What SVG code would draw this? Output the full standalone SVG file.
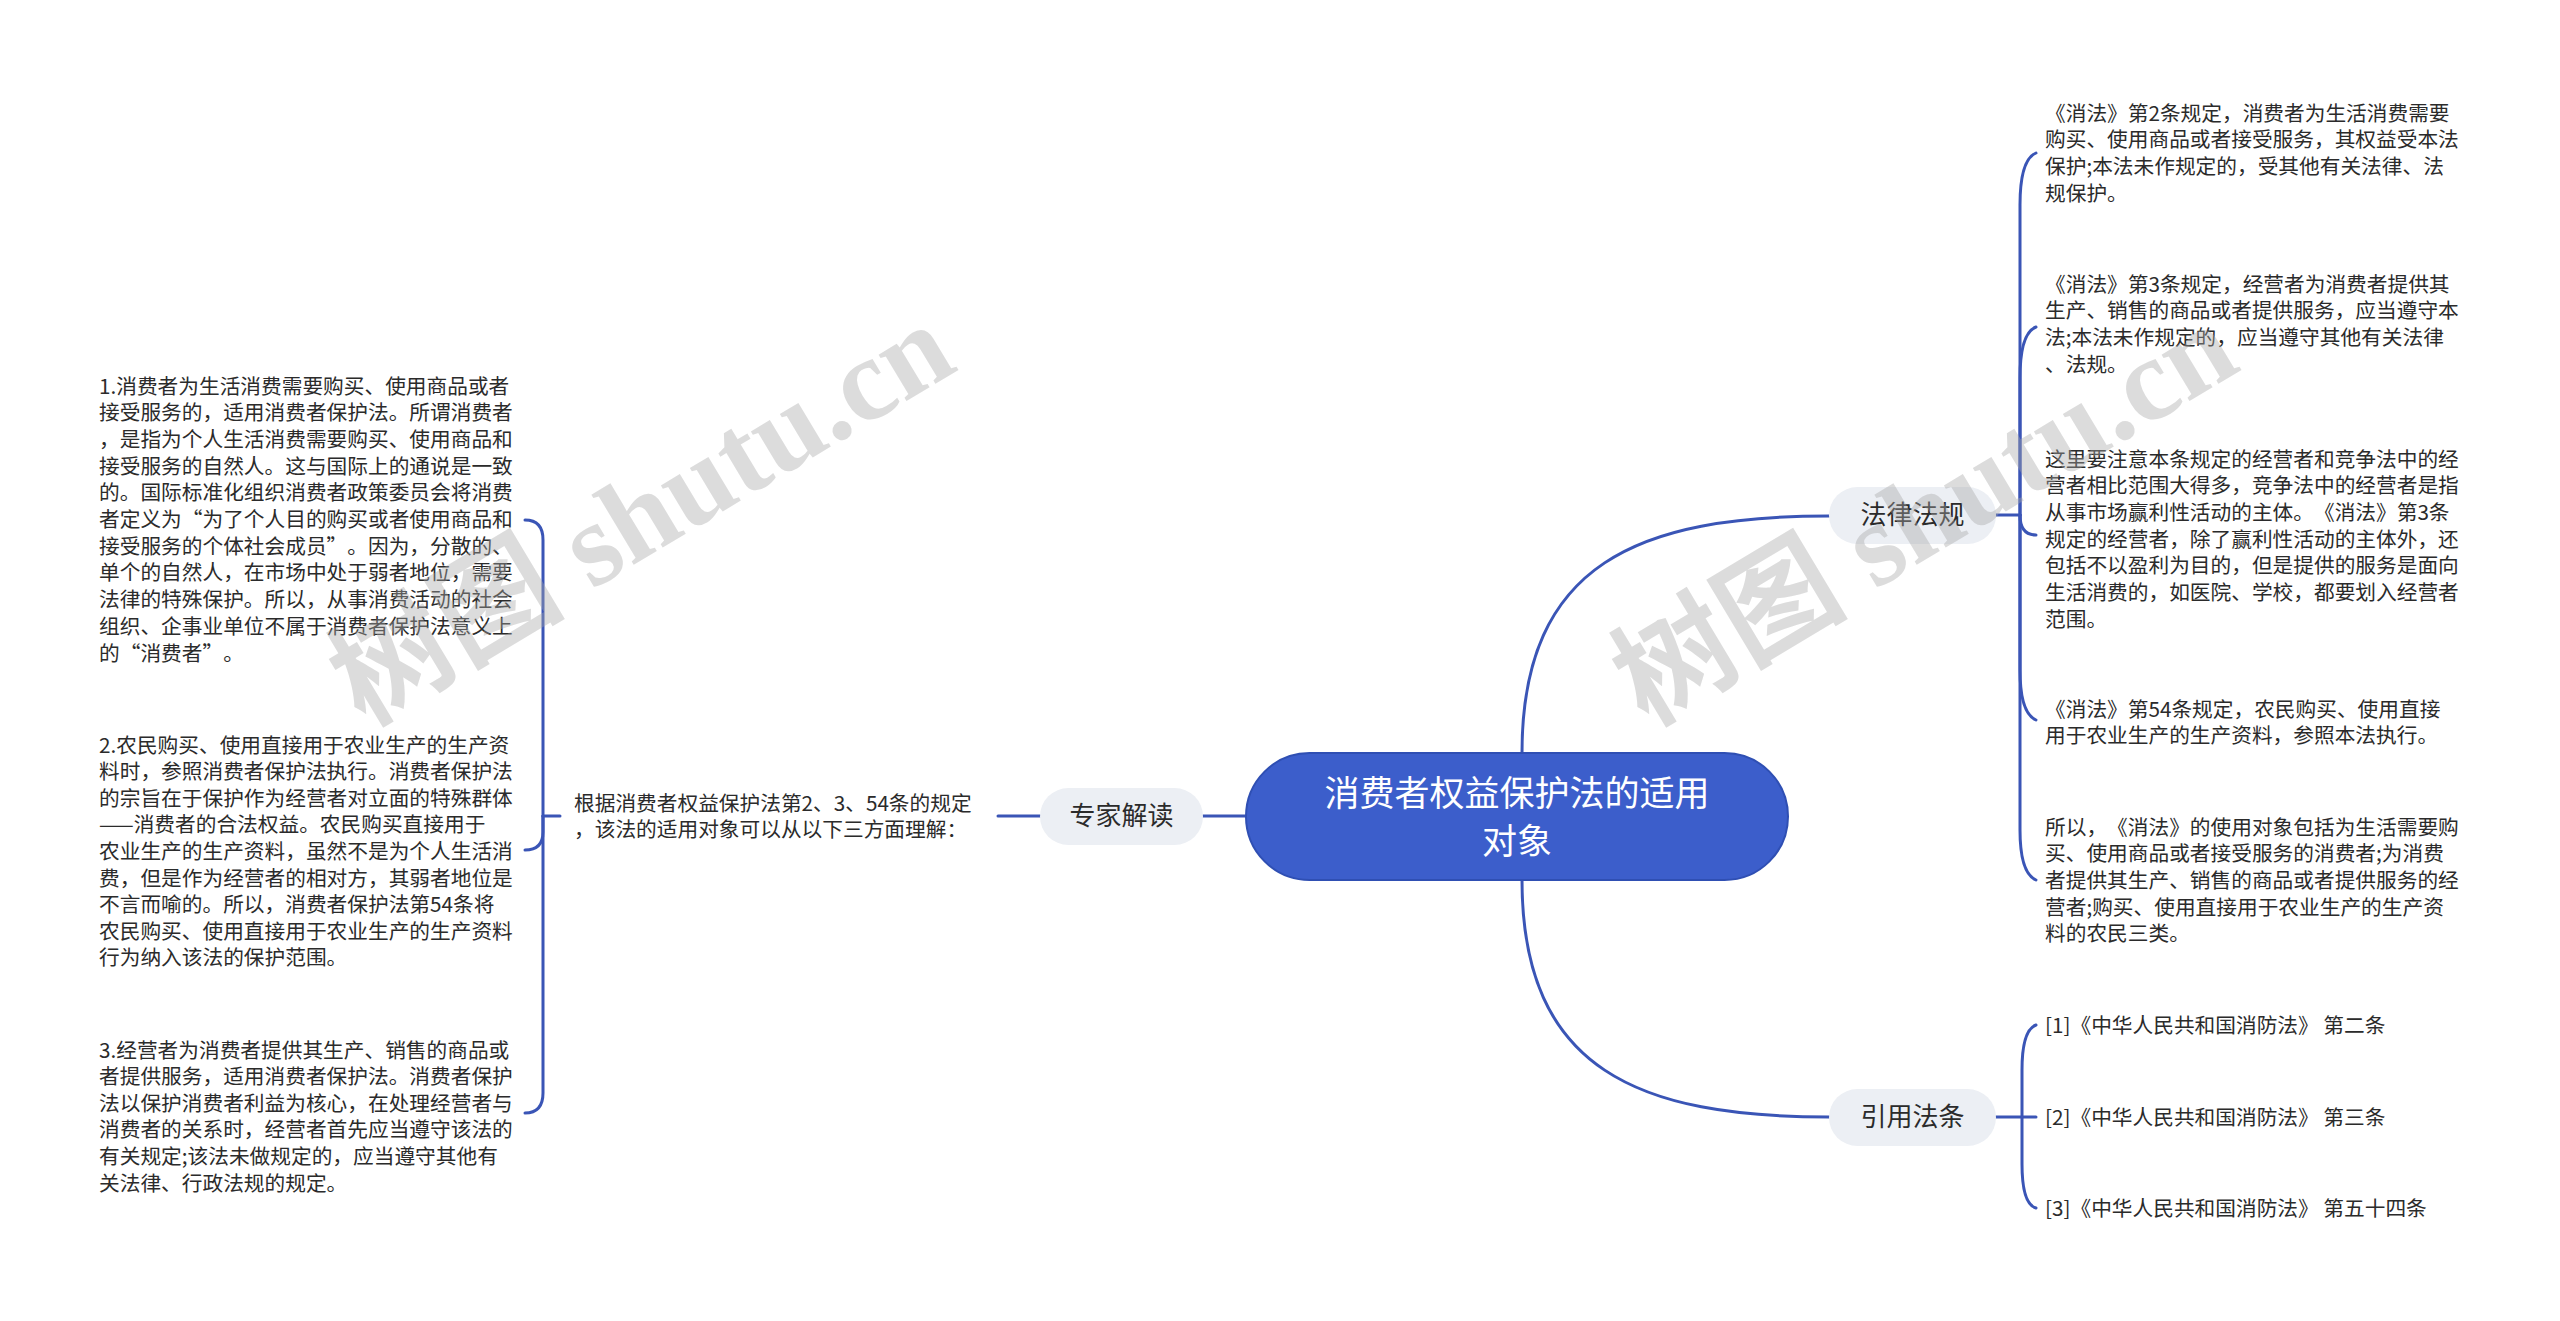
<svg xmlns="http://www.w3.org/2000/svg" width="2560" height="1321" viewBox="0 0 2560 1321">
<style>
.bg{fill:#ffffff}
.t{font-family:"Noto Sans CJK SC","Microsoft YaHei",sans-serif;font-size:20.7px;fill:#2b2b2b;text-spacing-trim:space-all}
.pill{fill:#eceff4}
.pt{font-family:"Noto Sans CJK SC","Microsoft YaHei",sans-serif;font-size:26px;fill:#2b2b2b;text-anchor:middle}
.root{fill:#3c5ecb;stroke:#2f4fb3;stroke-width:2}
.rt{font-family:"Noto Sans CJK SC","Microsoft YaHei",sans-serif;font-size:35px;fill:#ffffff;text-anchor:middle}
.c{fill:none;stroke:#3a55b6;stroke-width:3;stroke-linecap:round}
.wm{font-family:"Liberation Serif","Noto Sans CJK SC",serif;font-size:118px;font-weight:bold;fill:#a8a8a8;fill-opacity:0.4;text-anchor:middle}
</style>
<rect class="bg" x="0" y="0" width="2560" height="1321"/>

<g id="connectors">
  <path class="c" d="M1246,816 L1203,816"/>
  <path class="c" d="M1522,753 C1522,562 1640,516 1829,516"/>
  <path class="c" d="M1522,880 C1522,1071 1640,1117 1829,1117"/>
  <path class="c" d="M1040,816 L998,816"/>
  <path class="c" d="M560,816 L543,816"/>
  <path class="c" d="M543,816 L543,540 Q543,520 525,520"/>
  <path class="c" d="M543,816 L543,832 Q543,850 525,850"/>
  <path class="c" d="M543,816 L543,1093 Q543,1113 525,1113"/>
  <path class="c" d="M1996,515 L2020,515"/>
  <path class="c" d="M2020,515 L2020,205 Q2020,160 2036,153"/>
  <path class="c" d="M2020,515 L2020,378 Q2020,333 2036,327"/>
  <path class="c" d="M2020,515 Q2020,535 2036,535"/>
  <path class="c" d="M2020,515 L2020,670 Q2020,713 2036,720"/>
  <path class="c" d="M2020,515 L2020,830 Q2020,873 2036,880"/>
  <path class="c" d="M1996,1117 L2036,1117"/>
  <path class="c" d="M2022,1117 L2022,1070 Q2022,1030 2036,1025"/>
  <path class="c" d="M2022,1117 L2022,1164 Q2022,1204 2036,1208"/>
</g>

<g id="root">
  <rect class="root" x="1246" y="753" width="542" height="127" rx="63.5"/>
  <text class="rt" x="1517" y="806">消费者权益保护法的适用</text>
  <text class="rt" x="1517" y="854">对象</text>
</g>

<g id="n-zhuanjia">
  <rect class="pill" x="1040" y="788" width="163" height="57" rx="28.5"/>
  <text class="pt" x="1121.5" y="825">专家解读</text>
</g>

<g id="n-falv">
  <rect class="pill" x="1829" y="487" width="167" height="57" rx="28.5"/>
  <text class="pt" x="1912.5" y="524">法律法规</text>
</g>

<g id="n-yinyong">
  <rect class="pill" x="1829" y="1089" width="167" height="57" rx="28.5"/>
  <text class="pt" x="1912.5" y="1126">引用法条</text>
</g>

<g id="n-genju">
  <text class="t" x="574" y="810.5">根据消费者权益保护法第2、3、54条的规定</text>
  <text class="t" x="574" y="837">，该法的适用对象可以从以下三方面理解：</text>
</g>

<g id="n-left1">
  <text class="t" x="99" y="393.5">1.消费者为生活消费需要购买、使用商品或者</text>
  <text class="t" x="99" y="420.2">接受服务的，适用消费者保护法。所谓消费者</text>
  <text class="t" x="99" y="446.9">，是指为个人生活消费需要购买、使用商品和</text>
  <text class="t" x="99" y="473.6">接受服务的自然人。这与国际上的通说是一致</text>
  <text class="t" x="99" y="500.3">的。国际标准化组织消费者政策委员会将消费</text>
  <text class="t" x="99" y="527">者定义为“为了个人目的购买或者使用商品和</text>
  <text class="t" x="99" y="553.7">接受服务的个体社会成员”。因为，分散的、</text>
  <text class="t" x="99" y="580.4">单个的自然人，在市场中处于弱者地位，需要</text>
  <text class="t" x="99" y="607.1">法律的特殊保护。所以，从事消费活动的社会</text>
  <text class="t" x="99" y="633.8">组织、企事业单位不属于消费者保护法意义上</text>
  <text class="t" x="99" y="660.5">的“消费者”。</text>
</g>

<g id="n-left2">
  <text class="t" x="99" y="752.5">2.农民购买、使用直接用于农业生产的生产资</text>
  <text class="t" x="99" y="779.1">料时，参照消费者保护法执行。消费者保护法</text>
  <text class="t" x="99" y="805.7">的宗旨在于保护作为经营者对立面的特殊群体</text>
  <text class="t" x="99" y="832.3">——消费者的合法权益。农民购买直接用于</text>
  <text class="t" x="99" y="858.9">农业生产的生产资料，虽然不是为个人生活消</text>
  <text class="t" x="99" y="885.5">费，但是作为经营者的相对方，其弱者地位是</text>
  <text class="t" x="99" y="912.1">不言而喻的。所以，消费者保护法第54条将</text>
  <text class="t" x="99" y="938.7">农民购买、使用直接用于农业生产的生产资料</text>
  <text class="t" x="99" y="965.3">行为纳入该法的保护范围。</text>
</g>

<g id="n-left3">
  <text class="t" x="99" y="1057.5">3.经营者为消费者提供其生产、销售的商品或</text>
  <text class="t" x="99" y="1084.1">者提供服务，适用消费者保护法。消费者保护</text>
  <text class="t" x="99" y="1110.7">法以保护消费者利益为核心，在处理经营者与</text>
  <text class="t" x="99" y="1137.3">消费者的关系时，经营者首先应当遵守该法的</text>
  <text class="t" x="99" y="1163.9">有关规定;该法未做规定的，应当遵守其他有</text>
  <text class="t" x="99" y="1190.5">关法律、行政法规的规定。</text>
</g>

<g id="n-right1">
  <text class="t" x="2045" y="120.5">《消法》第2条规定，消费者为生活消费需要</text>
  <text class="t" x="2045" y="147.2">购买、使用商品或者接受服务，其权益受本法</text>
  <text class="t" x="2045" y="173.9">保护;本法未作规定的，受其他有关法律、法</text>
  <text class="t" x="2045" y="200.6">规保护。</text>
</g>

<g id="n-right2">
  <text class="t" x="2045" y="291.5">《消法》第3条规定，经营者为消费者提供其</text>
  <text class="t" x="2045" y="318.2">生产、销售的商品或者提供服务，应当遵守本</text>
  <text class="t" x="2045" y="344.9">法;本法未作规定的，应当遵守其他有关法律</text>
  <text class="t" x="2045" y="371.6">、法规。</text>
</g>

<g id="n-right3">
  <text class="t" x="2045" y="466.5">这里要注意本条规定的经营者和竞争法中的经</text>
  <text class="t" x="2045" y="493.2">营者相比范围大得多，竞争法中的经营者是指</text>
  <text class="t" x="2045" y="519.9">从事市场赢利性活动的主体。《消法》第3条</text>
  <text class="t" x="2045" y="546.6">规定的经营者，除了赢利性活动的主体外，还</text>
  <text class="t" x="2045" y="573.3">包括不以盈利为目的，但是提供的服务是面向</text>
  <text class="t" x="2045" y="600">生活消费的，如医院、学校，都要划入经营者</text>
  <text class="t" x="2045" y="626.7">范围。</text>
</g>

<g id="n-right4">
  <text class="t" x="2045" y="716.5">《消法》第54条规定，农民购买、使用直接</text>
  <text class="t" x="2045" y="743.2">用于农业生产的生产资料，参照本法执行。</text>
</g>

<g id="n-right5">
  <text class="t" x="2045" y="834.5">所以，《消法》的使用对象包括为生活需要购</text>
  <text class="t" x="2045" y="861.2">买、使用商品或者接受服务的消费者;为消费</text>
  <text class="t" x="2045" y="887.9">者提供其生产、销售的商品或者提供服务的经</text>
  <text class="t" x="2045" y="914.6">营者;购买、使用直接用于农业生产的生产资</text>
  <text class="t" x="2045" y="941.3">料的农民三类。</text>
</g>

<g id="n-ref1"><text class="t" x="2045" y="1032.5">[1]《中华人民共和国消防法》 第二条</text></g>
<g id="n-ref2"><text class="t" x="2045" y="1124.5">[2]《中华人民共和国消防法》 第三条</text></g>
<g id="n-ref3"><text class="t" x="2045" y="1215.5">[3]《中华人民共和国消防法》 第五十四条</text></g>

<g id="watermark">
  <text class="wm" transform="translate(662,548) rotate(-31)">树图 shutu.cn</text>
  <text class="wm" transform="translate(1945,548) rotate(-31)">树图 shutu.cn</text>
</g>
</svg>
